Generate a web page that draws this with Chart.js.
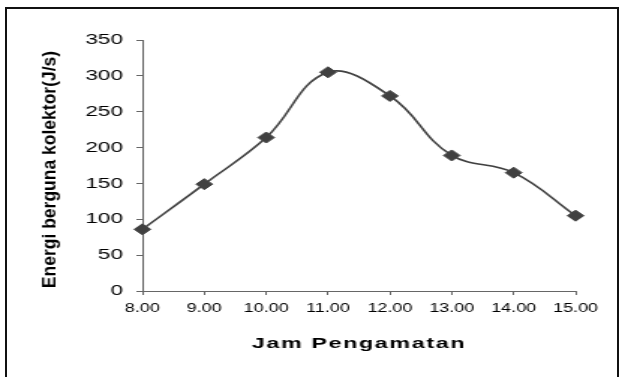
<!DOCTYPE html>
<html>
<head>
<meta charset="utf-8">
<script src="https://cdn.jsdelivr.net/npm/chart.js@4.4.1/dist/chart.umd.min.js"></script>
<style>
  html, body { margin: 0; padding: 0; background: #fff; overflow: hidden; }
  body { width: 619px; height: 377px; position: relative; }
  /* chart area border, the bottom edge is outside the picture */
  .edge { position: absolute; background: #111; }
  #edgeTop { left: 5px; top: 7px; width: 614px; height: 2px; }
  #edgeLeft { left: 5px; top: 7px; width: 2px; height: 370px; }
  #edgeRight { left: 617px; top: 7px; width: 2px; height: 370px; }
  /* the original is stretched sideways, so draw narrow and widen it */
  #wrap { position: absolute; left: 0; top: 0; width: 413px; height: 377px;
          transform: scaleX(1.4988); transform-origin: 0 0; }
</style>
</head>
<body>
<div class="edge" id="edgeTop"></div>
<div class="edge" id="edgeLeft"></div>
<div class="edge" id="edgeRight"></div>
<div id="wrap"><canvas id="chart"></canvas></div>
<script>
// Data
const hours = ['8.00', '9.00', '10.00', '11.00', '12.00', '13.00', '14.00', '15.00']
const energy = [86, 149, 214, 305, 272, 189, 165, 105]

// Axis range and step of the y ticks
const yMin = 0
const yMax = 350
const yStep = 50

// Texts
const xTitle = 'Jam Pengamatan'
const yTitle = 'Energi berguna kolektor(J/s)'

const STRETCH = 619 / 413
const FONT = '"Liberation Sans", Arial, sans-serif'

Chart.defaults.font.family = FONT
Chart.defaults.color = '#000'

// Axis titles drawn by hand: x title is spaced out, y title must not be widened
const axisTitles = {
	id: 'axisTitles',
	afterDraw(chart) {
		const ctx = chart.ctx
		const area = chart.chartArea
		ctx.save()
		ctx.fillStyle = '#000'
		ctx.textBaseline = 'alphabetic'
		ctx.textAlign = 'center'

		// x title under the tick labels
		ctx.font = 'bold 15.5px ' + FONT
		ctx.letterSpacing = '1.1px'
		ctx.fillText(xTitle, (area.left + area.right) / 2, 348)

		// y title, rotated, undo most of the sideways stretch
		ctx.letterSpacing = '0px'
		ctx.font = 'bold 17.5px ' + FONT
		ctx.translate(55 / STRETCH, 169.5)
		ctx.scale(1.1 / STRETCH, 1)
		ctx.rotate(-Math.PI / 2)
		ctx.fillText(yTitle, 0, 0)
		ctx.restore()
	}
}

const axisColor = '#666'

new Chart(document.getElementById('chart'), {
	type: 'line',
	data: {
		labels: hours,
		datasets: [{
			data: energy,
			borderColor: '#404040',
			borderWidth: 1.6,
			tension: 0.4,
			fill: false,
			clip: false,
			pointStyle: 'rectRot',
			pointRadius: 5.5,
			pointBackgroundColor: '#404040',
			pointBorderColor: '#404040',
			pointBorderWidth: 1
		}]
	},
	options: {
		responsive: true,
		maintainAspectRatio: false,
		animation: false,
		layout: { padding: { left: 0, top: 40, right: 29, bottom: 56 } },
		plugins: {
			legend: { display: false },
			tooltip: { enabled: false }
		},
		scales: {
			x: {
				grid: { drawOnChartArea: false, drawTicks: true, tickLength: 4, color: axisColor },
				border: { color: axisColor, width: 1 },
				ticks: { font: { size: 12 }, padding: 6, maxRotation: 0, autoSkip: false },
				afterFit: (scale) => { scale.height = 30 }
			},
			y: {
				min: yMin,
				max: yMax,
				grid: { drawOnChartArea: false, drawTicks: true, tickLength: 4, color: axisColor },
				border: { color: axisColor, width: 1 },
				ticks: { stepSize: yStep, font: { size: 15 }, padding: 9 },
				afterFit: (scale) => { scale.width = 95 }
			}
		}
	},
	plugins: [axisTitles]
})
</script>
</body>
</html>
